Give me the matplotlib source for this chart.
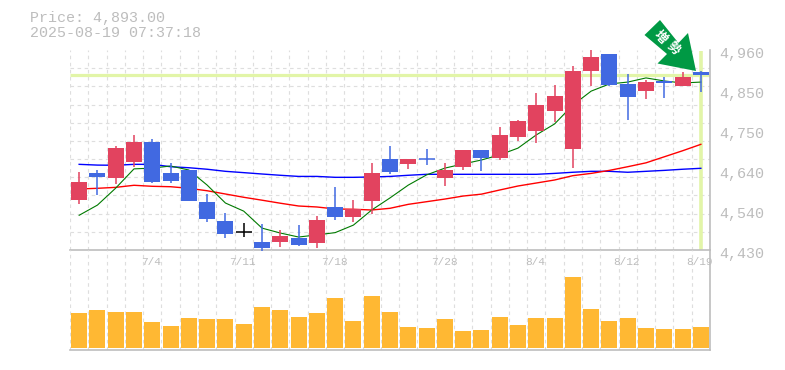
import matplotlib
matplotlib.use("Agg")
import matplotlib.pyplot as plt
from matplotlib.patches import Polygon
from matplotlib.transforms import ScaledTranslation

opens = [4562.5,4634,4620.8,4663.2,4716.2,4634,4642,4557,4507,4478.5,4451.2,4451.2,4461.8,4448.5,4544,4517.5,4559.9,4671.2,4657.9,4670.4,4620.8,4650,4695,4673.8,4729.5,4745.3,4798.4,4697.7,4904.4,4949.4,4869.9,4851.4,4877.9,4864.6,4901.7]
highs = [4637.5,4642,4705.6,4734.8,4724.2,4660.6,4642,4578.4,4528,4501.5,4498.9,4483,4496.3,4520,4597,4562.5,4660.6,4705.6,4671.2,4697.7,4660.6,4695,4695,4756,4774.5,4846,4867.3,4917.6,4960,4949.4,4896.3,4880.5,4888.5,4901.7,4904.4]
lows = [4552,4575,4604.9,4650,4607.5,4607.5,4560,4504,4461.8,4464.4,4427.3,4438,4440.6,4435.3,4509.5,4504,4525.4,4631.4,4644.7,4655.3,4599.6,4642,4639.4,4668.5,4718.9,4713.6,4769.2,4647.3,4864.6,4864.6,4775,4830.1,4832.8,4864.6,4848.7]
closes = [4610,4623.5,4700.3,4716.2,4610.2,4613,4560,4512,4472.4,4478.5,4435.3,4467.1,4443.2,4509.5,4517.5,4538.7,4634,4636.7,4671.2,4670.4,4642,4695,4673.8,4734.8,4771.9,4814.3,4838.1,4904.4,4941.5,4867.3,4835.4,4875.2,4872.6,4888.5,4893]
ma_short = [4522,4549,4594,4645,4647,4652.6,4642,4602,4554.5,4533,4488,4475,4464.4,4470,4476,4496,4536,4568,4602,4629,4647,4658,4668.5,4682,4700,4735,4764,4814,4851,4870,4875,4886,4878,4872.6,4875]
ma_mid = [4591.7,4593.5,4596,4601.5,4598.8,4597.7,4593.5,4587,4578.4,4569.7,4562,4554,4546.6,4544,4538.7,4538,4536,4540.5,4551,4558,4565,4573,4578,4589,4599.6,4607.5,4615.5,4627,4633,4641,4650.7,4661,4677,4693,4710]
ma_long = [4657,4655,4654.5,4657,4657,4650.7,4648,4644,4638.5,4635,4631.4,4628,4625,4625,4622.6,4622.6,4623.5,4625,4628,4630.6,4630.6,4630.6,4630.6,4630.6,4630.6,4630.6,4633,4636,4638.5,4638.5,4636,4638.5,4641,4644,4646.5]
volumes = [35,38,36,36,26,22,30,29,29,24,41,38,31,35,50,27,52,36,21,20,29,17,18,31,23,30,30,71,39,27,30,20,19,19,21]
date_labels = {4:"7/4",9:"7/11",14:"7/18",20:"7/28",25:"8/4",30:"8/12",34:"8/19"}
price_ticks = [4960,4854,4748,4642,4536,4430]
price_labels = ["4,960","4,850","4,750","4,640","4,540","4,430"]
last_price = 4893.0

W, H = 785, 370
RED, BLUE = "#e2435f", "#4169e1"
GRAY, GRID, HILITE = "#bdbdbd", "#dedede", "#e2f5a8"
MONO = "Liberation Mono"

fig = plt.figure(figsize=(W/100, H/100), dpi=100, facecolor="white")
L, R = 70, 710
ax = fig.add_axes([L/W, 1-250/H, (R-L)/W, 200/H])
av = fig.add_axes([L/W, 1-350/H, (R-L)/W, 100/H])
n = len(opens)
xs = [i+0.5 for i in range(n)]

for a in (ax, av):
    a.set_xlim(0, n)
    a.set_facecolor("none")
    a.set_xticks(range(n+1))
    a.tick_params(axis="x", length=0, labelbottom=False)
    a.grid(axis="x", color=GRID, lw=0.85, linestyle=(0, (3, 3)))
    a.set_axisbelow(True)
    for s in ("top", "left"):
        a.spines[s].set_visible(False)
    for s in ("right", "bottom"):
        a.spines[s].set_color(GRAY)
        a.spines[s].set_linewidth(1.2)

ax.set_ylim(4430, 4960)
step = (4960-4430)/11
ax.set_yticks([4430+step*i for i in range(12)], minor=True)
ax.grid(axis="y", which="minor", color=GRID, lw=0.85, linestyle=(0, (3, 3)))
ax.yaxis.tick_right()
ax.set_yticks(price_ticks)
ax.set_yticklabels(price_labels, family=MONO, fontsize=10.8, color=GRAY)
ax.tick_params(axis="y", which="both", length=0, pad=7)
off = ScaledTranslation(0, -3/100, fig.dpi_scale_trans)
for t in ax.get_yticklabels():
    t.set_transform(t.get_transform()+off)

ax.axhline(last_price, color=HILITE, lw=2.3, zorder=1.2, solid_capstyle="butt")
ax.axvline(xs[-1], color=HILITE, lw=2.6, ymax=0.995, zorder=1.2, solid_capstyle="butt")

ax.plot(xs, ma_long, color="#0000ff", lw=1.0, zorder=2)
ax.plot(xs, ma_mid, color="#ff0000", lw=1.0, zorder=2)
ax.plot(xs, ma_short, color="#007a00", lw=0.8, zorder=2)

for x, o, h, l, c in zip(xs, opens, highs, lows, closes):
    col = RED if c > o else BLUE
    if o == c and x == xs[9]:
        col = "black"
    ax.vlines(x, l, h, color=col, lw=1.1, zorder=3, clip_on=False)
    if o == c:
        ax.hlines(c, x-0.44, x+0.44, color=col, lw=1.1, zorder=3)
    else:
        ax.bar(x, abs(c-o), bottom=min(o, c), width=0.875, color=col, zorder=3, linewidth=0)

av.set_ylim(-2, 98)
av.set_yticks([])
av.bar(xs, volumes, width=0.875, color="#ffb833", linewidth=0, zorder=3)
for i, lab in date_labels.items():
    av.text(xs[i]+(-0.05), 86, lab, ha="center", va="center", family=MONO, fontsize=8,
            color=GRAY, zorder=4, clip_on=False)

fig.text(30/W, 1-18/H, "Price: 4,893.00", family=MONO, fontsize=10.8, color=GRAY, va="center")
fig.text(30/W, 1-33/H, "2025-08-19 07:37:18", family=MONO, fontsize=10.8, color=GRAY, va="center")

arrow_px = [(660,20),(644.5,35),(667,54),(657.5,63.5),(696,71),(688,33),(678.5,43)]
fig.add_artist(Polygon([(x/W, 1-y/H) for x, y in arrow_px], closed=True, transform=fig.transFigure,
                       facecolor="#009944", edgecolor="none", zorder=10))
for ch, (x, y) in zip("増勢", [(660,37),(673,48)]):
    fig.text(x/W, 1-y/H, ch, family=["Noto Sans CJK JP", "DejaVu Sans"], fontsize=9, fontweight="bold",
             color="white", rotation=-45, ha="center", va="center", zorder=11)

fig.savefig("out.png", dpi=100, facecolor="white")
